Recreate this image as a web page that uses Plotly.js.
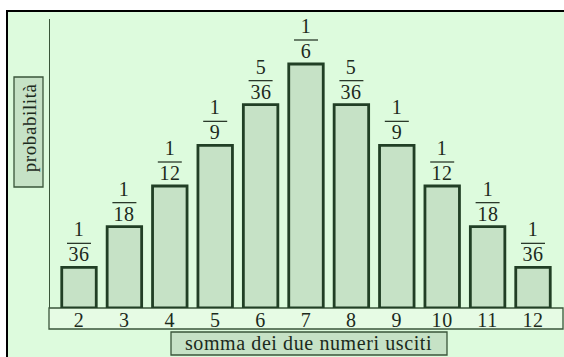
<!DOCTYPE html>
<html><head><meta charset="utf-8">
<script src="https://cdn.plot.ly/plotly-3.0.1.min.js"></script>
<style>html,body{margin:0;padding:0;background:#fff}#chart{width:564px;height:357px}#chart text{letter-spacing:0.6px}</style>
</head><body><div id="chart"></div>
<script>
// Sum of two dice (categories) and probabilities in 36ths
const sums = [2, 3, 4, 5, 6, 7, 8, 9, 10, 11, 12];
const counts36 = [1, 2, 3, 4, 5, 6, 5, 4, 3, 2, 1];
const numerators = ['1', '1', '1', '1', '5', '1', '5', '1', '1', '1', '1'];
const denominators = ['36', '18', '12', '9', '36', '6', '36', '9', '12', '18', '36'];
const xTitle = 'somma dei due numeri usciti';
const yTitle = 'probabilità';

const probs = counts36.map(c => c / 36);

const W = 564, H = 357;
const L = 50, R = 0, T = 19, B = 49;
const pw = W - L - R, ph = H - T - B;
const px = x => (x - L) / pw;          // pixel -> paper x
const py = y => (H - B - y) / ph;      // pixel -> paper y

const dark = '#213f25';
const textCol = '#1c2a1c';
const font = 'Liberation Serif, Times New Roman, serif';

const shapes = [
  {type:'rect', xref:'paper', yref:'paper', x0:px(7), x1:px(600), y0:py(11), y1:py(400),
   fillcolor:'#ddfbdd', line:{color:'#000', width:2}, layer:'below'},
  {type:'rect', xref:'paper', yref:'paper', x0:px(49), x1:px(563), y0:py(308), y1:py(329),
   fillcolor:'#e6fbe4', line:{color:'#3a553a', width:1.3}, layer:'below'},
  {type:'rect', xref:'paper', yref:'paper', x0:px(171), x1:px(447), y0:py(332), y1:py(355),
   fillcolor:'#c6e2c6', line:{color:'#3a553a', width:1.3}, layer:'below'},
  {type:'rect', xref:'paper', yref:'paper', x0:px(14), x1:px(43), y0:py(77), y1:py(187),
   fillcolor:'#c6e2c6', line:{color:'#3a553a', width:1.3}, layer:'below'}
];
const annotations = [
  {xref:'paper', yref:'paper', x:px(309), y:py(343), text:xTitle, showarrow:false,
   xanchor:'center', yanchor:'middle', font:{family:font, size:20, color:textCol}},
  {xref:'paper', yref:'paper', x:px(29), y:py(128), text:yTitle, showarrow:false, textangle:-90,
   xanchor:'center', yanchor:'middle', font:{family:font, size:19, color:textCol}}
];
sums.forEach((s, i) => {
  annotations.push({x:s, y:probs[i], xref:'x', yref:'y', text:numerators[i], showarrow:false,
    xanchor:'center', yanchor:'bottom', yshift:25, font:{family:font, size:20, color:textCol}});
  annotations.push({x:s, y:probs[i], xref:'x', yref:'y', text:denominators[i], showarrow:false,
    xanchor:'center', yanchor:'bottom', yshift:0, font:{family:font, size:20, color:textCol}});
  shapes.push({type:'line', xref:'x', yref:'y', xsizemode:'pixel', xanchor:s, x0:-12, x1:12,
    ysizemode:'pixel', yanchor:probs[i], y0:24, y1:24, line:{color:textCol, width:1.2}});
});

const trace = {
  type:'bar', x:sums, y:probs, width:0.76,
  marker:{color:'#c6e2c6', line:{color:dark, width:2.8}},
  hoverinfo:'skip'
};

const x0 = 2 - (79 - L) / 45.4;
const x1 = 2 + (W - R - 79) / 45.4;
const layout = {
  width:W, height:H, margin:{l:L, r:R, t:T, b:B},
  paper_bgcolor:'#ffffff', plot_bgcolor:'rgba(0,0,0,0)',
  showlegend:false,
  xaxis:{range:[x0, x1], tickvals:sums, ticktext:sums.map(String), ticks:'', showgrid:false,
    zeroline:false, showline:false, ticklabelstandoff:-2,
    tickfont:{family:font, size:20, color:textCol}, fixedrange:true},
  yaxis:{range:[0, ph / 1464], showticklabels:false, ticks:'', showgrid:false, zeroline:false,
    showline:true, linecolor:'#3a553a', linewidth:1.5, fixedrange:true},
  shapes:shapes, annotations:annotations
};
Plotly.newPlot('chart', [trace], layout, {displayModeBar:false, staticPlot:true});
</script></body></html>
